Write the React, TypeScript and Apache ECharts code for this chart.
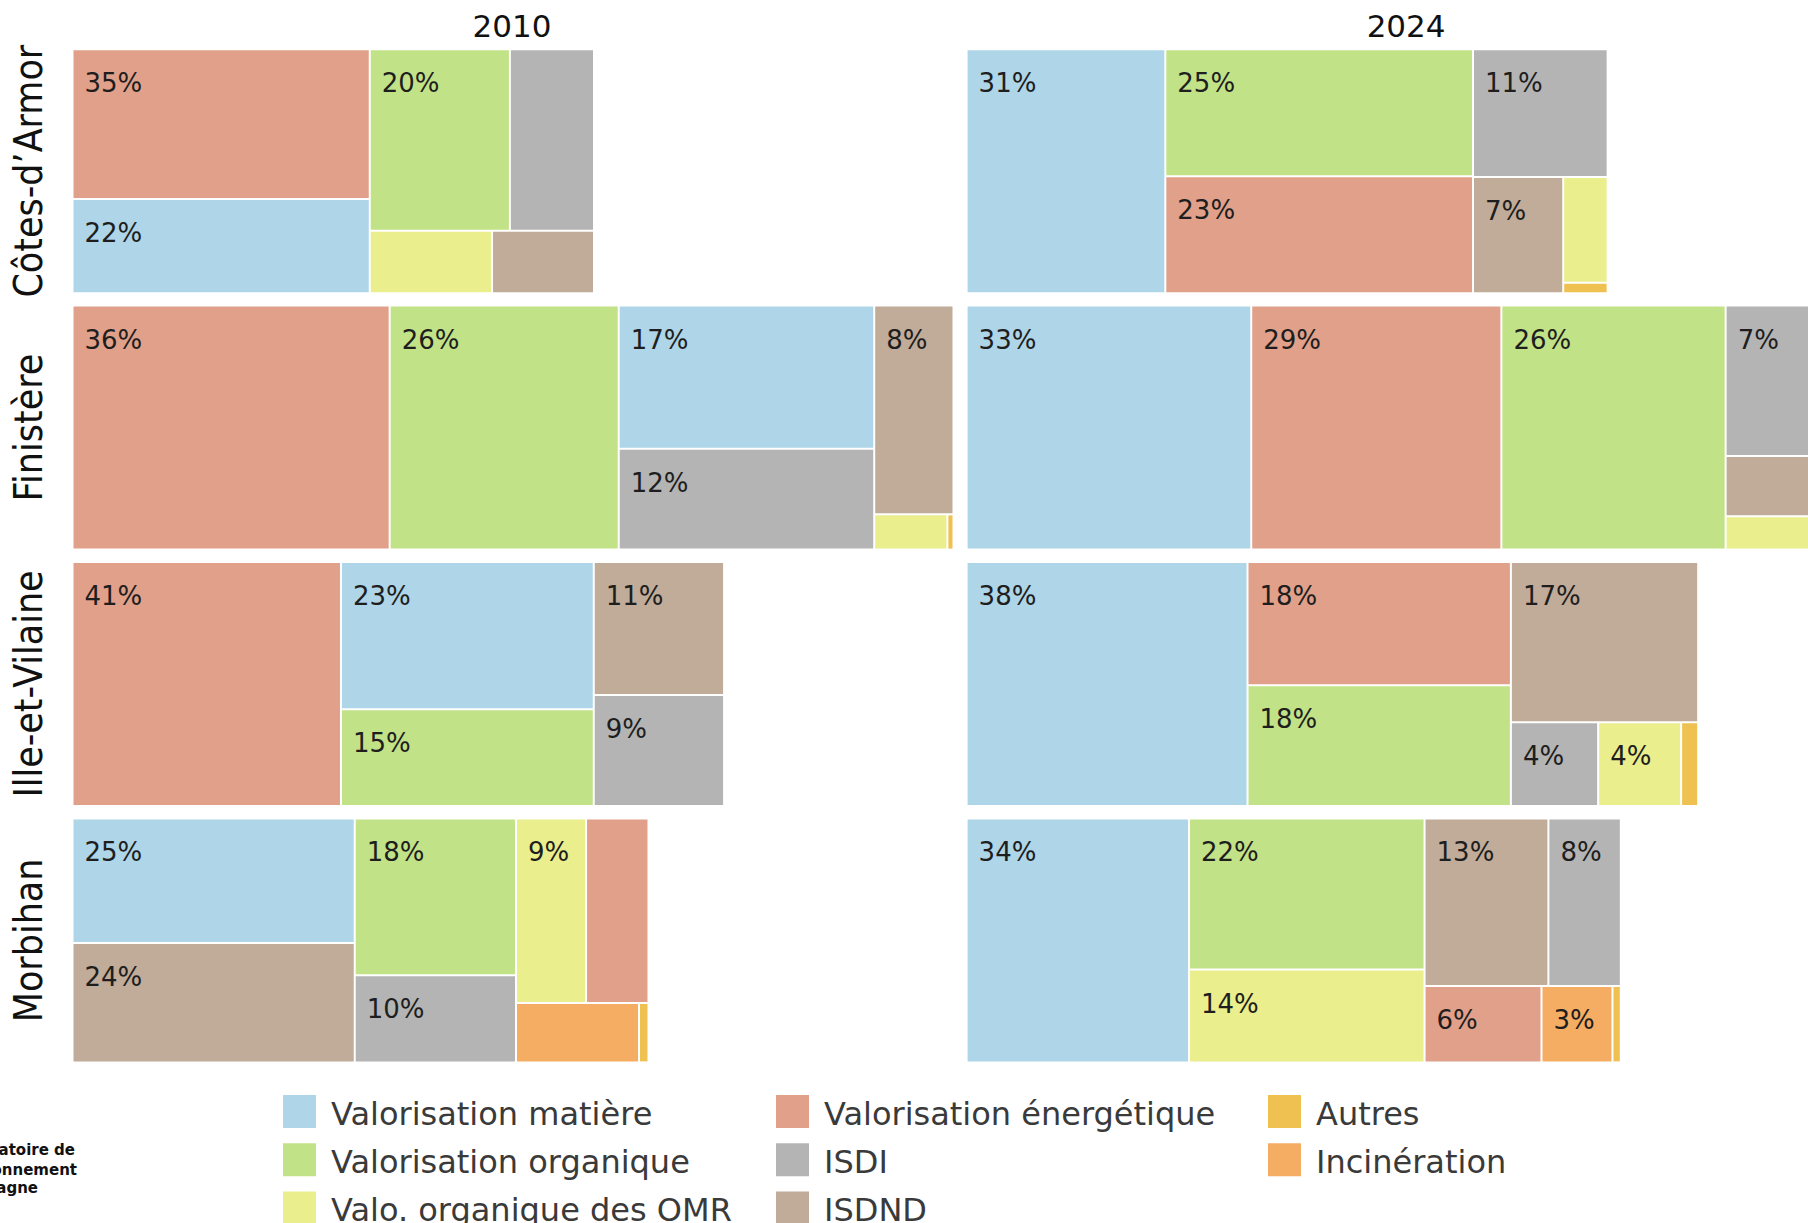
import React, { useEffect, useRef } from 'react';
import * as echarts from 'echarts';

// ---------- DATA ----------
const years = ['2010', '2024'];
const departments = ['Côtes-d’Armor', 'Finistère', 'Ille-et-Vilaine', 'Morbihan'];
const categories = [
  'Valorisation matière',
  'Valorisation organique',
  'Valo. organique des OMR',
  'Valorisation énergétique',
  'ISDI',
  'ISDND',
  'Autres',
  'Incinération',
];

// shares (%) in the order of `categories`
const cotesArmor2010 = [22, 20, 6, 35, 12, 5, 0, 0];
const cotesArmor2024 = [31, 25, 3.0, 23, 11, 6.7, 0.3, 0];
const finistere2010 = [17, 26, 1.2, 36, 12, 7.7, 0.1, 0];
const finistere2024 = [33, 26, 1.5, 29, 7.4, 2.7, 0.4, 0];
const illeEtVilaine2010 = [23.4, 15.4, 0, 41.2, 9.1, 10.9, 0, 0];
const illeEtVilaine2024 = [38.4, 17.8, 3.9, 18.2, 4.1, 16.8, 0.8, 0];
const morbihan2010 = [25, 18, 9.2, 8.2, 10, 24, 0.4, 5.2];
const morbihan2024 = [34, 22.3, 13.7, 5.6, 7.6, 13, 0.4, 3.4];

// relative total volume of each treemap (largest = 100)
const volume2010 = [59.1, 100, 73.9, 65.3];
const volume2024 = [72.7, 97.9, 83.0, 74.2];

// cells shown without a label
const unlabelled2010 = [
  ['ISDI', 'Valo. organique des OMR', 'ISDND'],
  ['Valo. organique des OMR', 'Autres'],
  [],
  ['Valorisation énergétique', 'Incinération', 'Autres'],
];
const unlabelled2024 = [
  ['Valo. organique des OMR', 'Autres'],
  ['ISDND', 'Valo. organique des OMR', 'Autres'],
  ['Autres'],
  ['Autres'],
];

const logoLines = ['Observatoire de', 'l’environnement', 'en Bretagne'];

// ---------- STYLE ----------
const colors = ['#AED5E8', '#C2E288', '#EBEE8C', '#E1A08A', '#B4B4B4', '#C1AB99', '#EFC151', '#F5AD64'];
const FONT = '"DejaVu Sans", sans-serif';

const shares2010 = [cotesArmor2010, finistere2010, illeEtVilaine2010, morbihan2010];
const shares2024 = [cotesArmor2024, finistere2024, illeEtVilaine2024, morbihan2024];

const panelLeft = [73.5, 967.6];
const panelWidth = 879;
const rowTop0 = 50.2;
const rowPitch = 256.4;
const rowHeight = 242;

function buildSeries(): any[] {
  const series: any[] = [];
  [shares2010, shares2024].forEach((yearShares, yi) => {
    const vols = yi === 0 ? volume2010 : volume2024;
    const hidden = yi === 0 ? unlabelled2010 : unlabelled2024;
    yearShares.forEach((shares, di) => {
      const data = shares
        .map((v, ci) => ({
          name: categories[ci],
          value: v,
          itemStyle: { color: colors[ci] },
          label: { show: !hidden[di].includes(categories[ci]) },
        }))
        .filter((d) => d.value > 0);
      series.push({
        type: 'treemap',
        id: `tm-${yi}-${di}`,
        left: panelLeft[yi],
        top: rowTop0 + di * rowPitch,
        width: (vols[di] / 100) * panelWidth,
        height: rowHeight,
        roam: false,
        nodeClick: false,
        silent: true,
        breadcrumb: { show: false },
        sort: 'desc',
        visibleMin: 0,
        animation: false,
        emphasis: { disabled: true },
        upperLabel: { show: false },
        itemStyle: { borderWidth: 0, gapWidth: 2, borderColor: '#ffffff' },
        levels: [
          { itemStyle: { borderWidth: 0, gapWidth: 2, borderColor: '#ffffff' } },
          { itemStyle: { borderWidth: 0, gapWidth: 0 } },
        ],
        label: {
          show: true,
          position: [11, 20],
          padding: 0,
          fontSize: 26,
          fontFamily: FONT,
          color: '#1e1e1e',
          formatter: (p: any) => `${Math.round(p.value)}%`,
        },
        data,
      });
    });
  });
  return series;
}

function buildGraphic(): any[] {
  const g: any[] = [];
  // year titles
  years.forEach((y, yi) => {
    g.push({
      type: 'text',
      x: panelLeft[yi] + panelWidth / 2 - 1,
      y: 25.5,
      silent: true,
      style: {
        text: y,
        fill: '#111111',
        font: `31px ${FONT}`,
        textAlign: 'center',
        textVerticalAlign: 'middle',
        align: 'center',
        verticalAlign: 'middle',
      },
    });
  });
  // department labels (vertical)
  departments.forEach((d, di) => {
    g.push({
      type: 'text',
      x: 29,
      y: rowTop0 + di * rowPitch + rowHeight / 2,
      rotation: Math.PI / 2,
      scaleY: 1.12,
      silent: true,
      style: {
        text: d,
        fill: '#111111',
        font: `35px ${FONT}`,
        textAlign: 'center',
        textVerticalAlign: 'middle',
        align: 'center',
        verticalAlign: 'middle',
      },
    });
  });
  // legend
  const legendX = [283, 776, 1268];
  const legendY = [1111.5, 1159.7, 1207.9];
  categories.forEach((c, ci) => {
    const col = Math.floor(ci / 3);
    const row = ci % 3;
    g.push({
      type: 'rect',
      silent: true,
      shape: { x: legendX[col], y: legendY[row] - 16.5, width: 33, height: 33 },
      style: { fill: colors[ci] },
    });
    g.push({
      type: 'text',
      silent: true,
      x: legendX[col] + 48,
      y: legendY[row] + 2,
      style: {
        text: c,
        fill: '#3a3a3a',
        font: `32px ${FONT}`,
        textAlign: 'left',
        textVerticalAlign: 'middle',
        align: 'left',
        verticalAlign: 'middle',
      },
    });
  });
  // cropped logo text (cut by the left edge, as in the source image)
  const logoRight = [75, 77, 38];
  const logoY = [1150, 1170, 1188];
  logoLines.forEach((t, i) => {
    g.push({
      type: 'text',
      silent: true,
      x: logoRight[i],
      y: logoY[i],
      style: {
        text: t,
        fill: '#111111',
        font: `bold 15px ${FONT}`,
        textAlign: 'right',
        textVerticalAlign: 'middle',
        align: 'right',
        verticalAlign: 'middle',
      },
    });
  });
  return g;
}

export default function App() {
  const ref = useRef<HTMLDivElement>(null);
  useEffect(() => {
    document.body.style.margin = '0';
    document.body.style.overflow = 'hidden';
    if (!ref.current) return;
    const chart = echarts.init(ref.current, null, { renderer: 'svg' });
    chart.setOption({
      animation: false,
      backgroundColor: '#ffffff',
      series: buildSeries(),
      graphic: buildGraphic(),
    });
    return () => chart.dispose();
  }, []);
  return <div ref={ref} style={{ width: 1808, height: 1223, overflow: 'hidden' }} />;
}
